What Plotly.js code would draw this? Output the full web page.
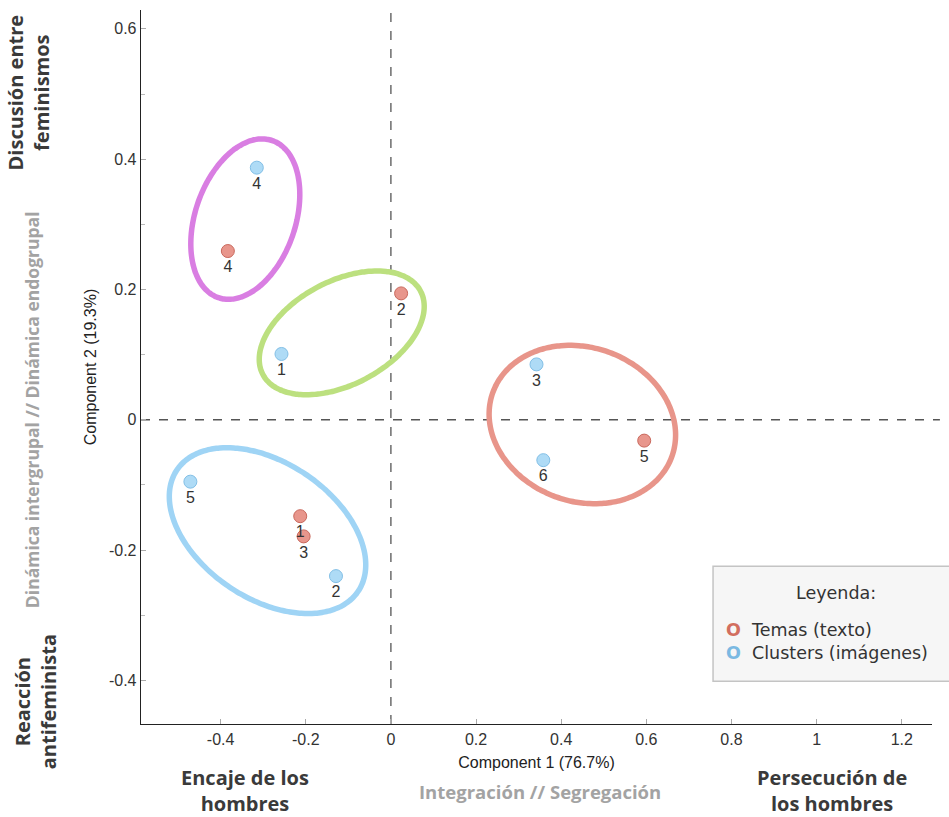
<!DOCTYPE html>
<html>
<head>
<meta charset="utf-8">
<script src="https://cdn.plot.ly/plotly-3.0.1.min.js"></script>
<style>html,body{margin:0;padding:0;background:#fff;}#chart{width:949px;height:817px;}</style>
</head>
<body>
<div id="chart"></div>
<script>
// ---- Data ----
const temasLabels = ['1', '2', '3', '4', '5'];
const temasX = [-0.213, 0.024, -0.205, -0.383, 0.595];
const temasY = [-0.148, 0.194, -0.179, 0.259, -0.032];

const clustersLabels = ['1', '2', '3', '4', '5', '6'];
const clustersX = [-0.257, -0.129, 0.342, -0.315, -0.471, 0.358];
const clustersY = [0.101, -0.240, 0.085, 0.387, -0.095, -0.062];

// Ellipses (group outlines): center and two semi-axis vectors, in data units
const ellipseColors = ['#d97ee2', '#bce07f', '#9fd4f5', '#e8958a'];
const ellipseCx = [-0.342, -0.1155, -0.2898, 0.4497];
const ellipseCy = [0.308, 0.1334, -0.1702, -0.0073];
const ellipseMajX = [0.0632, 0.1852, -0.2129, -0.2106];
const ellipseMajY = [0.1206, 0.0640, 0.0931, 0.0485];
const ellipseMinX = [0.1113, 0.0569, 0.0889, 0.0601];
const ellipseMinY = [-0.0249, -0.0702, 0.0868, 0.1115];

const xTickVals = [-0.4, -0.2, 0, 0.2, 0.4, 0.6, 0.8, 1, 1.2];
const xTickText = ['-0.4', '-0.2', '0', '0.2', '0.4', '0.6', '0.8', '1', '1.2'];
const yTickVals = [-0.4, -0.2, 0, 0.2, 0.4, 0.6];
const yTickText = ['-0.4', '-0.2', '0', '0.2', '0.4', '0.6'];

// ---- Traces ----
const traces = [];
for (let i = 0; i < ellipseCx.length; i++) {
  const ex = [], ey = [];
  const n = 160;
  for (let k = 0; k <= n; k++) {
    const t = 2 * Math.PI * k / n;
    ex.push(ellipseCx[i] + ellipseMajX[i] * Math.cos(t) + ellipseMinX[i] * Math.sin(t));
    ey.push(ellipseCy[i] + ellipseMajY[i] * Math.cos(t) + ellipseMinY[i] * Math.sin(t));
  }
  traces.push({
    x: ex, y: ey, type: 'scatter', mode: 'lines',
    line: {color: ellipseColors[i], width: 5.5, shape: 'spline'},
    hoverinfo: 'skip', showlegend: false
  });
}
const labelFont = {family: 'Liberation Sans, Arial, sans-serif', size: 16, color: '#333'};
traces.push({
  x: clustersX, y: clustersY, text: clustersLabels, type: 'scatter', mode: 'markers+text',
  textposition: 'bottom center', textfont: labelFont,
  marker: {size: 13, color: '#aedbf6', line: {color: '#82bfe6', width: 1}},
  showlegend: false, cliponaxis: false
});
traces.push({
  x: temasX, y: temasY, text: temasLabels, type: 'scatter', mode: 'markers+text',
  textposition: 'bottom center', textfont: labelFont,
  marker: {size: 13, color: '#e8968c', line: {color: '#c9685c', width: 1}},
  showlegend: false, cliponaxis: false
});

const boldFont = {family: '"Open Sans", Lato, sans-serif', size: 20, color: '#3a3a3a'};
const grayFontV = {family: '"Open Sans", Lato, sans-serif', size: 17.5, color: '#a3a3a3'};
const grayFontH = {family: '"Open Sans", Lato, sans-serif', size: 18.5, color: '#a3a3a3'};
const legFont = {family: '"DejaVu Sans", Verdana, sans-serif', size: 17.5, color: '#333'};
const axFont = {family: 'Liberation Sans, Arial, sans-serif', size: 16, color: '#333'};

const layout = {
  width: 949, height: 817,
  margin: {l: 141, r: 17, t: 10, b: 93},
  paper_bgcolor: '#fff', plot_bgcolor: '#fff',
  showlegend: false,
  xaxis: {
    range: [-0.587, 1.271], tickvals: xTickVals, ticktext: xTickText,
    ticks: 'inside', ticklen: 5, tickcolor: '#aaa', tickwidth: 1,
    showline: true, linecolor: '#222', linewidth: 1.3, mirror: false,
    showgrid: false, zeroline: false,
    tickfont: axFont,
    title: {text: 'Component 1 (76.7%)', standoff: 10,
      font: {family: 'Liberation Sans, Arial, sans-serif', size: 16, color: '#222'}}
  },
  yaxis: {
    range: [-0.467, 0.629], tickvals: yTickVals, ticktext: yTickText,
    ticks: 'inside', ticklen: 5, tickcolor: '#aaa', tickwidth: 1,
    minor: {dtick: 0.1, tick0: 0, ticks: 'inside', ticklen: 4, tickcolor: '#bbb'},
    showline: true, linecolor: '#222', linewidth: 1.3, mirror: false,
    showgrid: false, zeroline: false,
    tickfont: axFont,
    title: {text: 'Component 2 (19.3%)', standoff: 8,
      font: {family: 'Liberation Sans, Arial, sans-serif', size: 16, color: '#222'}}
  },
  shapes: [
    {type: 'line', xref: 'x', yref: 'paper', x0: 0, x1: 0, y0: 0, y1: 1,
     line: {color: '#555', width: 1.3, dash: 'dash'}, layer: 'below'},
    {type: 'line', xref: 'paper', yref: 'y', x0: 0, x1: 1.01, y0: 0, y1: 0,
     line: {color: '#555', width: 1.3, dash: 'dash'}, layer: 'below'},
    {type: 'rect', xref: 'paper', yref: 'paper', x0: 0.7232, x1: 1.025, y0: 0.06, y1: 0.221,
     fillcolor: '#f6f6f6', line: {color: '#c4c4c4', width: 1.5}, layer: 'above'}
  ],
  annotations: [
    {xref: 'paper', yref: 'paper', x: -0.1424, y: 0.885, text: '<b>Discusión entre<br>feminismos</b>',
     textangle: -90, showarrow: false, font: boldFont, xanchor: 'center', yanchor: 'middle'},
    {xref: 'paper', yref: 'paper', x: -0.1335, y: 0.031, text: '<b>Reacción<br>antifeminista</b>',
     textangle: -90, showarrow: false, font: boldFont, xanchor: 'center', yanchor: 'middle'},
    {xref: 'paper', yref: 'paper', x: -0.1374, y: 0.44, text: '<b>Dinámica intergrupal // Dinámica endogrupal</b>',
     textangle: -90, showarrow: false, font: grayFontV, xanchor: 'center', yanchor: 'middle'},
    {xref: 'paper', yref: 'paper', x: 0.1318, y: -0.0934, text: '<b>Encaje de los<br>hombres</b>',
     showarrow: false, font: boldFont, xanchor: 'center', yanchor: 'middle'},
    {xref: 'paper', yref: 'paper', x: 0.5046, y: -0.094, text: '<b>Integración // Segregación</b>',
     showarrow: false, font: grayFontH, xanchor: 'center', yanchor: 'middle'},
    {xref: 'paper', yref: 'paper', x: 0.8736, y: -0.0934, text: '<b>Persecución de<br>los hombres</b>',
     showarrow: false, font: boldFont, xanchor: 'center', yanchor: 'middle'},
    {xref: 'paper', yref: 'paper', x: 0.879, y: 0.183, text: 'Leyenda:',
     showarrow: false, font: legFont, xanchor: 'center', yanchor: 'middle'},
    {xref: 'paper', yref: 'paper', x: 0.737, y: 0.131,
     text: '<b><span style="color:#d26e5f">O</span></b>  Temas (texto)',
     showarrow: false, font: legFont, xanchor: 'left', yanchor: 'middle'},
    {xref: 'paper', yref: 'paper', x: 0.737, y: 0.1,
     text: '<b><span style="color:#7bb9e2">O</span></b>  Clusters (imágenes)',
     showarrow: false, font: legFont, xanchor: 'left', yanchor: 'middle'}
  ]
};

Plotly.newPlot('chart', traces, layout, {displayModeBar: false, staticPlot: true});
</script>
</body>
</html>
